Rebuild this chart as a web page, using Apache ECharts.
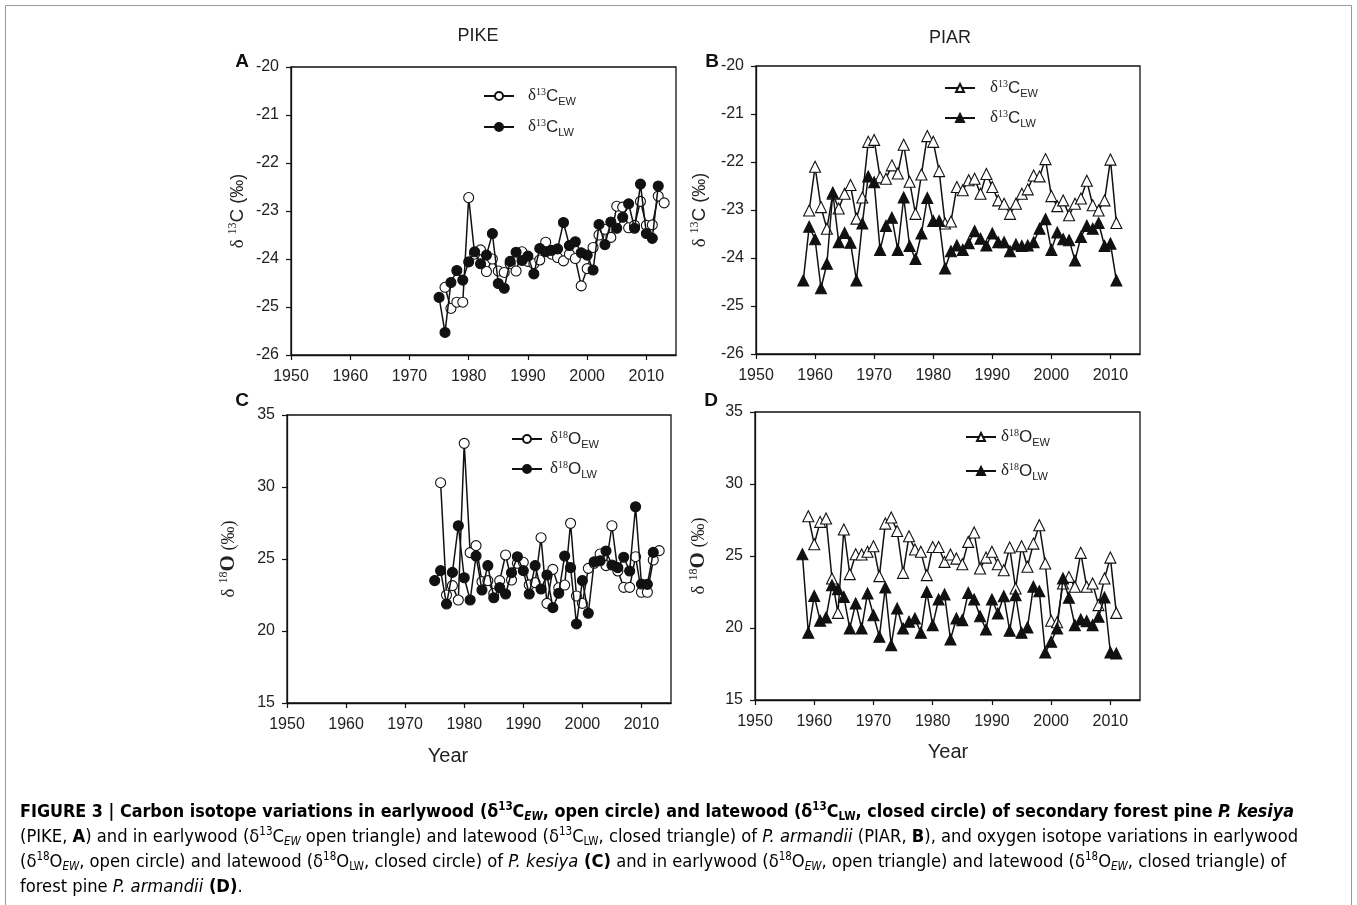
<!DOCTYPE html>
<html><head><meta charset="utf-8">
<script src="https://cdn.jsdelivr.net/npm/echarts@6/dist/echarts.min.js"></script>
<style>html,body{margin:0;padding:0;background:#fff}#c{width:1357px;height:905px}</style>
</head><body><div id="c"></div>
<script>
// ---------- DATA ----------
const xTicks = [1950, 1960, 1970, 1980, 1990, 2000, 2010];

const pikeYears = [1975,1976,1977,1978,1979,1980,1981,1982,1983,1984,1985,1986,1987,1988,1989,1990,1991,1992,1993,1994,1995,1996,1997,1998,1999,2000,2001,2002,2003,2004,2005,2006,2007,2008,2009,2010,2011,2012,2013];
const piarYears = [1958,1959,1960,1961,1962,1963,1964,1965,1966,1967,1968,1969,1970,1971,1972,1973,1974,1975,1976,1977,1978,1979,1980,1981,1982,1983,1984,1985,1986,1987,1988,1989,1990,1991,1992,1993,1994,1995,1996,1997,1998,1999,2000,2001,2002,2003,2004,2005,2006,2007,2008,2009,2010,2011];

// Panel A: PIKE d13C
const pikeC13EW = [null,-24.59,-25.03,-24.90,-24.90,-22.72,-23.90,-23.81,-24.26,-24.00,-24.25,-24.28,-24.10,-24.25,-23.85,-24.05,-24.10,-24.02,-23.65,-23.90,-23.97,-24.04,-23.90,-23.99,-24.56,-24.20,-23.76,-23.50,-23.38,-23.55,-22.90,-22.92,-23.35,-23.30,-22.80,-23.30,-23.29,-22.69,-22.83];
const pikeC13LW = [-24.80,-25.53,-24.49,-24.24,-24.44,-24.06,-23.85,-24.10,-23.92,-23.47,-24.51,-24.61,-24.05,-23.86,-24.03,-23.94,-24.31,-23.78,-23.85,-23.82,-23.79,-23.24,-23.72,-23.64,-23.87,-23.92,-24.23,-23.28,-23.70,-23.23,-23.36,-23.13,-22.85,-23.36,-22.44,-23.47,-23.57,-22.48,null];

// Panel B: PIAR d13C
const piarC13EW = [null,-23.01,-22.10,-22.94,-23.39,-22.66,-22.97,-22.66,-22.48,-23.18,-22.74,-21.58,-21.54,-22.32,-22.35,-22.07,-22.24,-21.64,-22.41,-23.08,-22.26,-21.46,-21.58,-22.19,-23.28,-23.24,-22.52,-22.59,-22.38,-22.35,-22.66,-22.25,-22.52,-22.80,-22.87,-23.08,-22.87,-22.66,-22.57,-22.28,-22.30,-21.94,-22.71,-22.92,-22.80,-23.11,-22.87,-22.76,-22.39,-22.90,-23.01,-22.80,-21.95,-23.27];
const piarC13LW = [-24.47,-23.35,-23.61,-24.63,-24.12,-22.64,-23.67,-23.48,-23.68,-24.47,-23.28,-22.30,-22.42,-23.83,-23.33,-23.16,-23.83,-22.74,-23.75,-24.02,-23.49,-22.75,-23.23,-23.23,-24.22,-23.86,-23.74,-23.83,-23.69,-23.44,-23.60,-23.74,-23.49,-23.67,-23.67,-23.86,-23.72,-23.75,-23.74,-23.67,-23.39,-23.19,-23.83,-23.47,-23.61,-23.63,-24.05,-23.56,-23.33,-23.39,-23.27,-23.75,-23.70,-24.47];

// Panel C: PIKE d18O
const pikeO18EW = [null,30.30,22.50,23.15,22.15,33.03,25.44,25.93,23.43,23.50,22.60,23.50,25.28,23.54,24.70,24.77,23.20,23.36,26.48,21.92,24.28,23.00,23.19,27.48,22.43,21.92,24.35,24.70,25.35,24.54,27.31,24.17,23.03,23.03,25.16,22.69,22.69,24.93,25.58];
const pikeO18LW = [23.50,24.19,21.87,24.07,27.31,23.70,22.15,25.21,22.85,24.54,22.31,23.01,22.57,24.05,25.16,24.19,22.57,24.54,22.92,23.89,21.62,22.62,25.21,24.40,20.49,23.50,21.23,24.81,24.88,25.56,24.58,24.40,25.12,24.17,28.63,23.26,23.24,25.46,null];

// Panel D: PIAR d18O
const piarO18EW = [null,27.76,25.82,27.37,27.60,23.44,21.05,26.84,23.74,25.12,25.10,25.30,25.68,23.60,27.25,27.67,26.74,23.83,26.37,25.45,25.29,23.67,25.63,25.63,24.59,25.10,24.82,24.43,25.98,26.63,24.13,24.89,25.29,24.43,24.01,25.59,22.74,25.68,24.25,25.86,27.14,24.48,20.50,20.40,23.09,23.55,22.86,25.22,22.86,23.09,21.59,23.44,24.89,21.05];
const piarO18LW = [25.12,19.67,22.23,20.50,20.73,22.97,22.70,22.16,19.97,21.70,19.97,22.40,20.89,19.39,22.81,18.81,21.36,19.97,20.43,20.66,19.67,22.51,20.20,21.98,22.33,19.20,20.66,20.55,22.44,21.98,20.82,19.90,21.98,21.01,22.21,19.81,22.28,19.67,20.04,22.86,22.56,18.30,19.04,19.97,23.44,22.10,20.20,20.59,20.48,20.20,20.78,22.12,18.30,18.23];

// ---------- CHART ----------
const sans = "'Liberation Sans', Arial, sans-serif";
const serif = "'Liberation Serif', 'Times New Roman', serif";
const narrow = "'Liberation Sans Narrow', 'DejaVu Sans Condensed', 'Liberation Sans', sans-serif";
const pairs = (ys, vs) => ys.map((y, i) => [y, vs[i]]);

const grids = [
  {left: 291, top: 67, width: 385, height: 288},
  {left: 756, top: 66, width: 384, height: 288},
  {left: 287, top: 415, width: 384, height: 288},
  {left: 755, top: 412, width: 385, height: 288}
].map(g => Object.assign(g, {show: true, borderColor: '#111', borderWidth: 1.3, backgroundColor: 'transparent'}));

const axisLineStyle = {lineStyle: {color: '#111', width: 1.3}};
const xAxes = grids.map((g, i) => ({
  gridIndex: i, type: 'value', min: 1950, max: 2015,
  axisLine: axisLineStyle,
  axisTick: {show: true, length: 5, inside: false, customValues: xTicks, lineStyle: {color: '#111', width: 1.2}},
  axisLabel: {customValues: xTicks, formatter: v => String(v), fontFamily: sans, fontSize: 16, color: '#222', margin: 14},
  splitLine: {show: false}
}));

const nameRich = (isO) => ({
  d: {fontFamily: serif, fontSize: 19, color: '#222'},
  sp: {width: 5},
  sup: {fontFamily: serif, fontSize: 12, color: '#222', verticalAlign: 'top', lineHeight: 22},
  m: {fontFamily: isO ? serif : sans, fontSize: isO ? 21 : 19, fontWeight: isO ? 'bold' : 'normal', color: '#222', lineHeight: 22},
  u: {fontFamily: isO ? serif : sans, fontSize: 18, color: '#222'}
});
const yCfg = [
  {min: -26, max: -20, interval: 1, name: '{d|δ}{sp|}{sup|13}{m|C}{u| (‰)}', gap: 42, isO: false},
  {min: -26, max: -20, interval: 1, name: '{d|δ}{sp|}{sup|13}{m|C}{u| (‰)}', gap: 45, isO: false},
  {min: 15, max: 35, interval: 5, name: '{d|δ}{sp|}{sup|18}{m|O}{u| (‰)}', gap: 47, isO: true},
  {min: 15, max: 35, interval: 5, name: '{d|δ}{sp|}{sup|18}{m|O}{u| (‰)}', gap: 45, isO: true}
];
const yAxes = yCfg.map((c, i) => ({
  gridIndex: i, type: 'value', min: c.min, max: c.max, interval: c.interval,
  name: c.name, nameLocation: 'middle', nameRotate: 90, nameGap: c.gap,
  nameTextStyle: {rich: nameRich(c.isO)},
  axisLine: {show: true, lineStyle: {color: '#111', width: 1.3}},
  axisTick: {show: true, length: 5, lineStyle: {color: '#111', width: 1.2}},
  axisLabel: {formatter: v => String(v), fontFamily: sans, fontSize: 16, color: '#222', margin: 12},
  splitLine: {show: false}
}));

function mk(name, idx, ys, vs, symbol, filled) {
  return {
    name: name, type: 'line', xAxisIndex: idx, yAxisIndex: idx,
    data: pairs(ys, vs), symbol: symbol, symbolSize: symbol === 'circle' ? 10 : 11,
    showAllSymbol: true, connectNulls: false,
    lineStyle: {color: '#111', width: 1.5},
    itemStyle: {color: filled ? '#111' : '#fff', borderColor: '#111', borderWidth: 1.1},
    emphasis: {disabled: true}, z: filled ? 3 : 2
  };
}
const series = [
  mk('A_EW', 0, pikeYears, pikeC13EW, 'circle', false),
  mk('A_LW', 0, pikeYears, pikeC13LW, 'circle', true),
  mk('B_EW', 1, piarYears, piarC13EW, 'triangle', false),
  mk('B_LW', 1, piarYears, piarC13LW, 'triangle', true),
  mk('C_EW', 2, pikeYears, pikeO18EW, 'circle', false),
  mk('C_LW', 2, pikeYears, pikeO18LW, 'circle', true),
  mk('D_EW', 3, piarYears, piarO18EW, 'triangle', false),
  mk('D_LW', 3, piarYears, piarO18LW, 'triangle', true)
];

const legLabels = {
  A_EW: '{g|}{d|δ}{sup|13}{m|C}{sub|EW}', A_LW: '{g|}{d|δ}{sup|13}{m|C}{sub|LW}',
  B_EW: '{g|}{d|δ}{sup|13}{m|C}{sub|EW}', B_LW: '{g|}{d|δ}{sup|13}{m|C}{sub|LW}',
  C_EW: '{g|}{d|δ}{sup|18}{m|O}{sub|EW}', C_LW: '{g|}{d|δ}{sup|18}{m|O}{sub|LW}',
  D_EW: '{g|}{d|δ}{sup|18}{m|O}{sub|EW}', D_LW: '{g|}{d|δ}{sup|18}{m|O}{sub|LW}'
};
const legRich = (gap) => ({
  g: {width: gap},
  d: {fontFamily: serif, fontSize: 17, color: '#222', lineHeight: 24},
  sup: {fontFamily: serif, fontSize: 10, color: '#222', verticalAlign: 'top', lineHeight: 24, padding: [3, 0, 0, 0]},
  m: {fontFamily: sans, fontSize: 17, color: '#222', lineHeight: 24},
  sub: {fontFamily: sans, fontSize: 11, color: '#222', verticalAlign: 'bottom', lineHeight: 24, padding: [0, 0, 1, 0]}
});
function leg(names, left, top, gap, rowGap) {
  return {
    data: names, left: left, top: top, orient: 'vertical', padding: 0,
    itemWidth: 30, itemHeight: 10, itemGap: rowGap, selectedMode: false,
    formatter: n => legLabels[n],
    textStyle: {rich: legRich(gap)}
  };
}
const legends = [
  leg(['A_EW', 'A_LW'], 483, 84, 9, 7),
  leg(['B_EW', 'B_LW'], 944, 76, 10, 6),
  leg(['C_EW', 'C_LW'], 511, 427, 3, 6),
  leg(['D_EW', 'D_LW'], 965, 425, 0, 10)
];

const BF = 17.8, NF = 18.2, SF = 11.5;
const capRich = {
  b: {fontFamily: narrow, fontSize: BF, fontWeight: 'bold', color: '#111'},
  bi: {fontFamily: narrow, fontSize: BF, fontWeight: 'bold', fontStyle: 'italic', color: '#111'},
  bsup: {fontFamily: narrow, fontSize: SF, fontWeight: 'bold', color: '#111', verticalAlign: 'top', lineHeight: 22},
  bsub: {fontFamily: narrow, fontSize: SF, fontWeight: 'bold', color: '#111', verticalAlign: 'bottom', lineHeight: 22},
  bisub: {fontFamily: narrow, fontSize: SF, fontWeight: 'bold', fontStyle: 'italic', color: '#111', verticalAlign: 'bottom', lineHeight: 22},
  n: {fontFamily: narrow, fontSize: NF, color: '#222', lineHeight: 22},
  i: {fontFamily: narrow, fontSize: NF, fontStyle: 'italic', color: '#222'},
  nb: {fontFamily: narrow, fontSize: NF, fontWeight: 'bold', color: '#111'},
  sup: {fontFamily: narrow, fontSize: SF, color: '#222', verticalAlign: 'top', lineHeight: 22},
  sub: {fontFamily: narrow, fontSize: SF, color: '#222', verticalAlign: 'bottom', lineHeight: 22},
  isub: {fontFamily: narrow, fontSize: SF, fontStyle: 'italic', color: '#222', verticalAlign: 'bottom', lineHeight: 22}
};
const capLines = [
  '{b|FIGURE 3 | Carbon isotope variations in earlywood (δ}{bsup|13}{b|C}{bisub|EW}{b|, open circle) and latewood (δ}{bsup|13}{b|C}{bsub|LW}{b|, closed circle) of secondary forest pine }{bi|P. kesiya}',
  '{n|(PIKE, }{nb|A}{n|) and in earlywood (δ}{sup|13}{n|C}{isub|EW}{n| open triangle) and latewood (δ}{sup|13}{n|C}{sub|LW}{n|, closed triangle) of }{i|P. armandii}{n| (PIAR, }{nb|B}{n|), and oxygen isotope variations in earlywood}',
  '{n|(δ}{sup|18}{n|O}{isub|EW}{n|, open circle) and latewood (δ}{sup|18}{n|O}{sub|LW}{n|, closed circle) of }{i|P. kesiya}{nb| (C)}{n| and in earlywood (δ}{sup|18}{n|O}{isub|EW}{n|, open triangle) and latewood (δ}{sup|18}{n|O}{isub|EW}{n|, closed triangle) of}',
  '{n|forest pine }{i|P. armandii}{nb| (D)}{n|.}'
];
const capY = [812, 837, 862, 887];

const txt = (x, y, text, opts) => ({
  type: 'text', x: x, y: y,
  style: Object.assign({text: text, fill: '#222', fontFamily: sans, fontSize: 18, textAlign: 'center', textVerticalAlign: 'middle'}, opts || {})
});

const graphic = [
  {type: 'rect', shape: {x: 5.5, y: 5.5, width: 1346, height: 920}, style: {fill: 'none', stroke: '#9a9a9a', lineWidth: 1}, silent: true},
  txt(478, 36, 'PIKE'),
  txt(950, 38, 'PIAR'),
  txt(242, 62, 'A', {fontWeight: 'bold', fontSize: 19, fill: '#111'}),
  txt(712, 62, 'B', {fontWeight: 'bold', fontSize: 19, fill: '#111'}),
  txt(242, 401, 'C', {fontWeight: 'bold', fontSize: 19, fill: '#111'}),
  txt(711, 401, 'D', {fontWeight: 'bold', fontSize: 19, fill: '#111'}),
  txt(448, 756, 'Year', {fontSize: 20}),
  txt(948, 752, 'Year', {fontSize: 20})
].concat(capLines.map((t, k) => ({
  type: 'text', x: 20, y: capY[k],
  style: {text: t, rich: capRich, textAlign: 'left', textVerticalAlign: 'middle', fontFamily: narrow, fontSize: NF}
})));

const chart = echarts.init(document.getElementById('c'), null, {renderer: 'canvas'});
chart.setOption({
  animation: false,
  backgroundColor: '#fff',
  grid: grids, xAxis: xAxes, yAxis: yAxes,
  legend: legends, series: series, graphic: graphic
});
</script>
</body></html>
